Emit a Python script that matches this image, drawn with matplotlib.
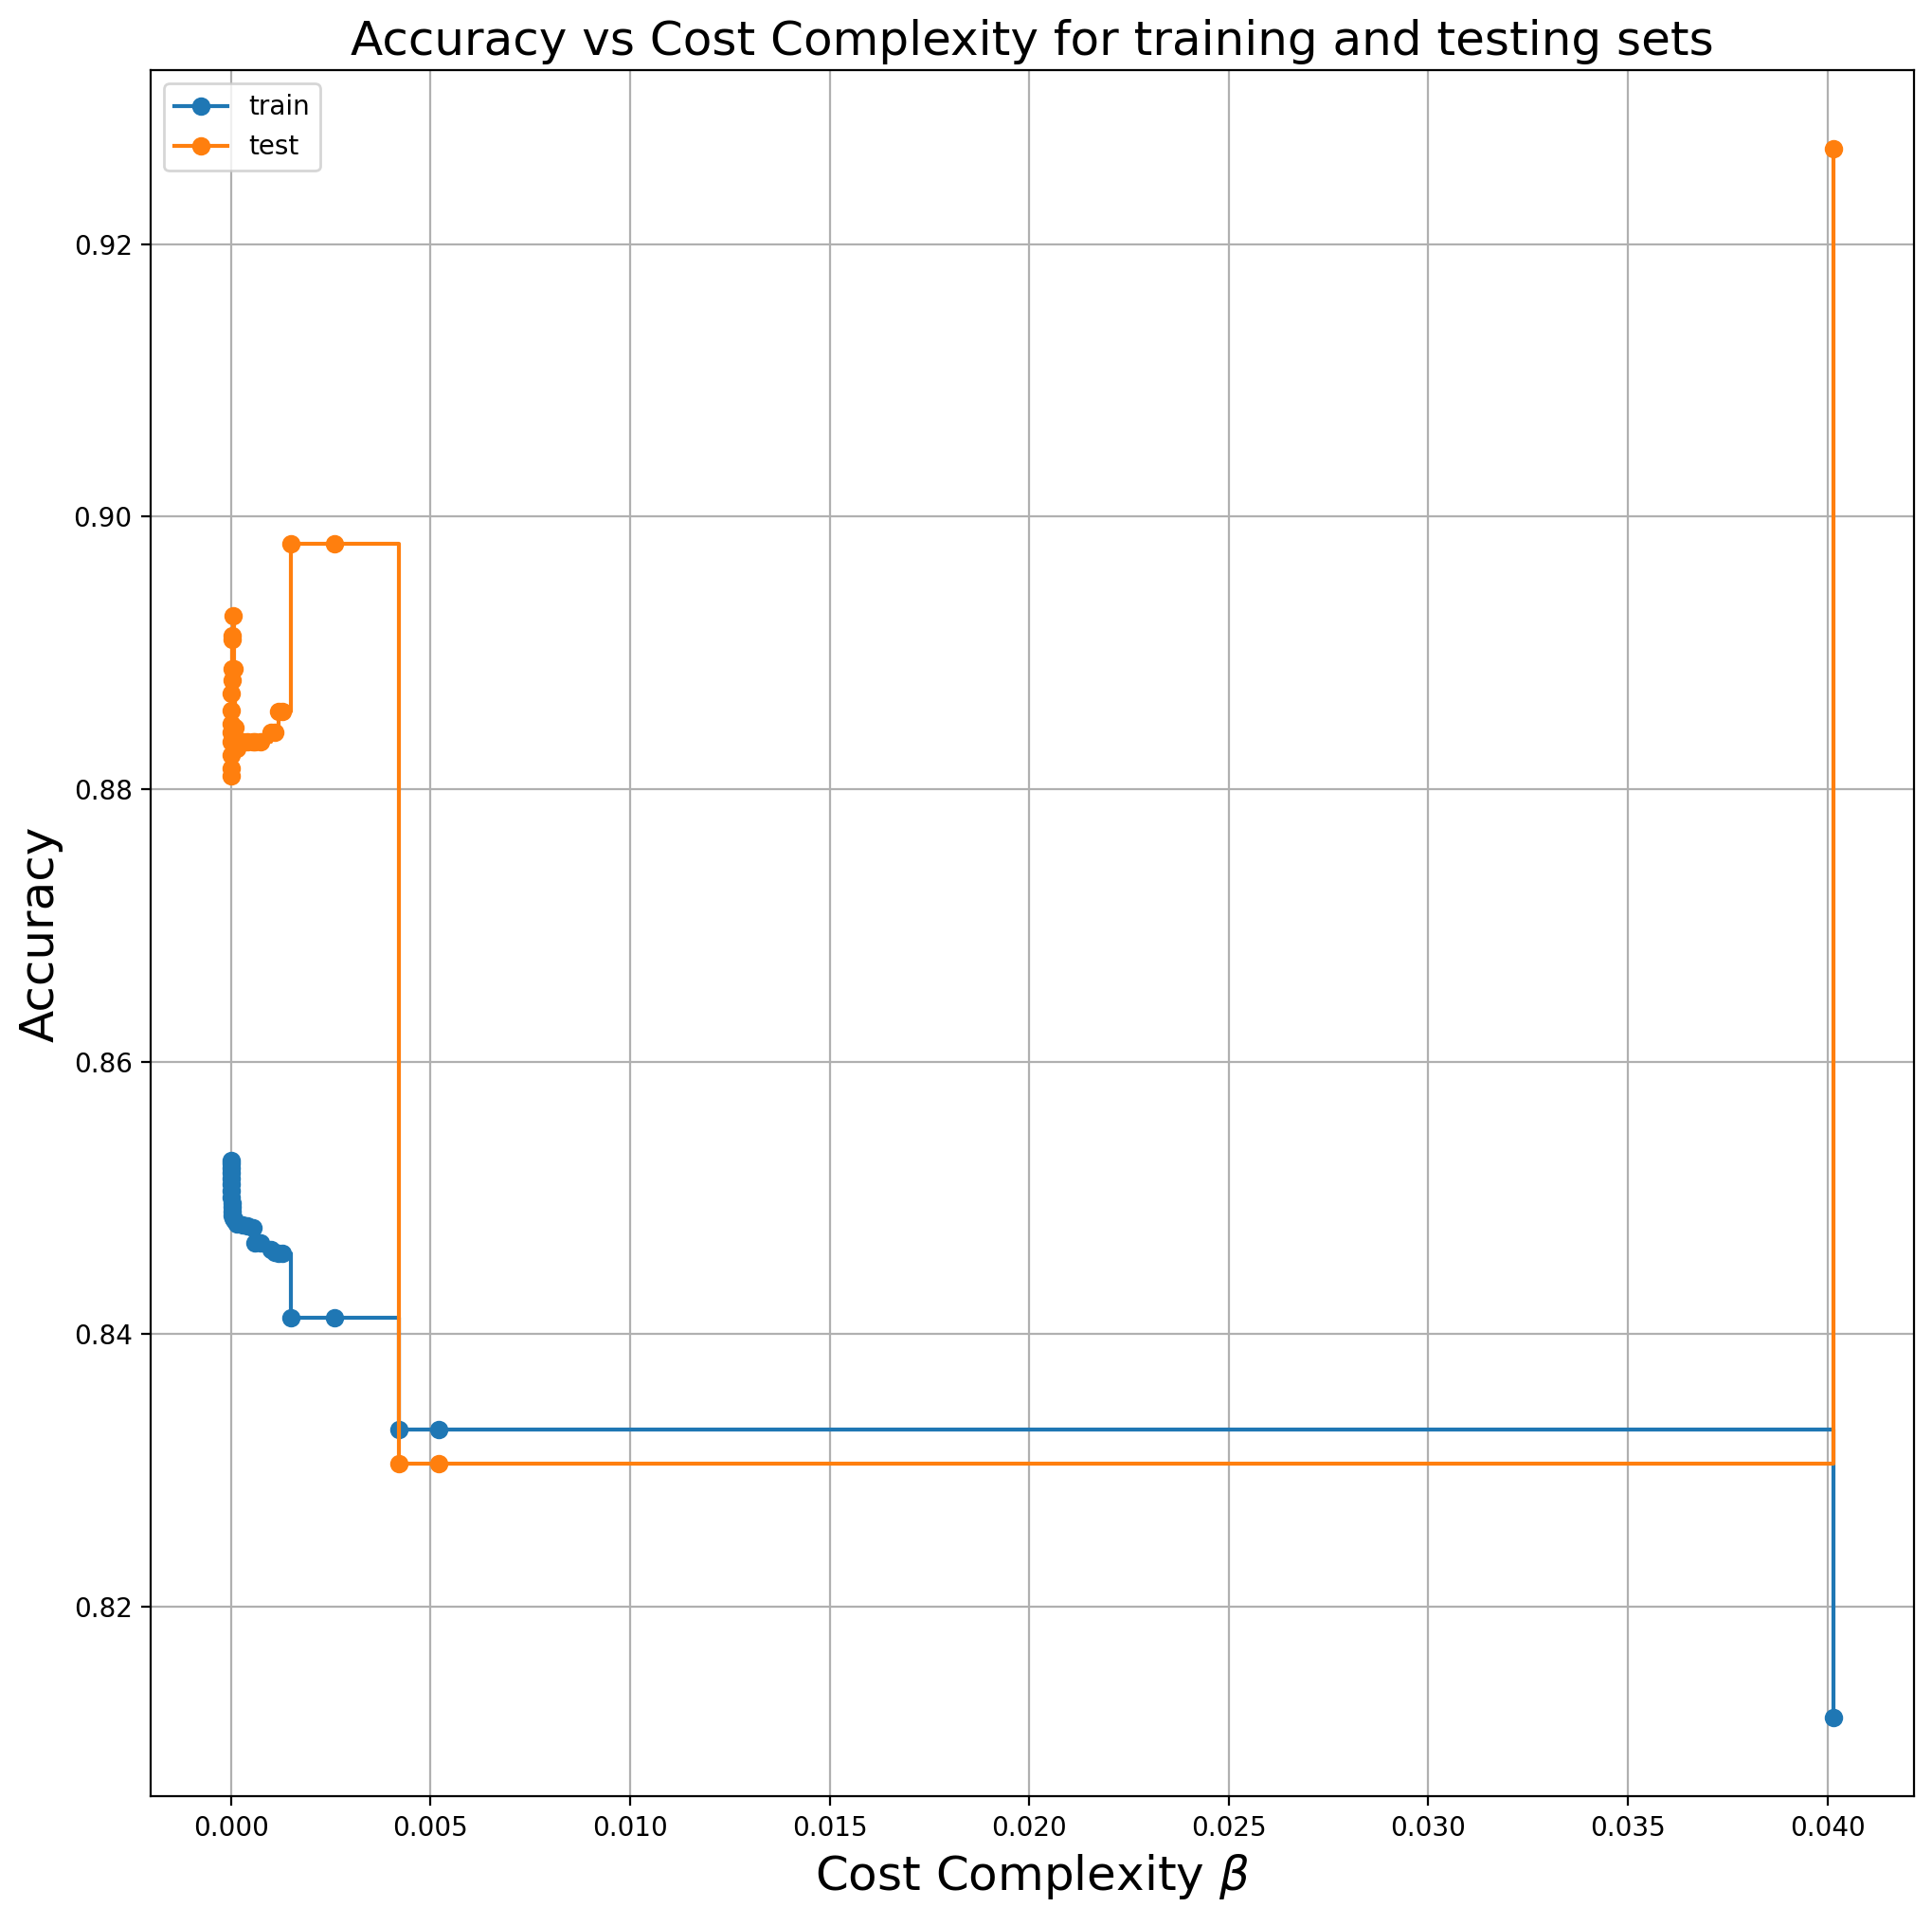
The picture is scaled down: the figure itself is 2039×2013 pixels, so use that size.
import numpy as np
import matplotlib.pyplot as plt

# ccp alphas (ascending) and accuracy
ccp_alphas = [0.0, 0.000002, 0.000004, 0.000006, 0.000008, 0.00001, 0.000012, 0.000015,
              0.00002, 0.000025, 0.00003, 0.00004, 0.00005, 0.00007, 0.0001, 0.00015,
              0.0003, 0.0004, 0.00055, 0.0006, 0.00075, 0.001, 0.0011, 0.0012, 0.00128,
              0.0015, 0.0026, 0.0042, 0.0052, 0.04015]
train_scores = [0.8527, 0.8525, 0.8522, 0.8518, 0.8514, 0.8510, 0.8505, 0.8500,
                0.8496, 0.8493, 0.8490, 0.8487, 0.8485, 0.8484, 0.8483, 0.8481,
                0.8480, 0.8479, 0.8478, 0.8467, 0.8467, 0.8462, 0.8460, 0.8459, 0.8459,
                0.8412, 0.8412, 0.8330, 0.8330, 0.8118]
test_scores = [0.8810, 0.8815, 0.8825, 0.8835, 0.8842, 0.8848, 0.8858, 0.8870,
               0.8880, 0.8888, 0.8910, 0.8913, 0.8927, 0.8888, 0.8845, 0.8830,
               0.8835, 0.8835, 0.8835, 0.8835, 0.8835, 0.8842, 0.8842, 0.8857, 0.8857,
               0.8980, 0.8980, 0.8305, 0.8305, 0.9270]

fig, ax = plt.subplots(figsize=(10.2, 10.065), dpi=200)
ax.plot(ccp_alphas, train_scores, marker="o", label="train", drawstyle="steps-post")
ax.plot(ccp_alphas, test_scores, marker="o", label="test", drawstyle="steps-post")
ax.set_xlabel(r"Cost Complexity $\beta$", fontsize=18)
ax.set_ylabel("Accuracy", fontsize=18)
ax.set_title("Accuracy vs Cost Complexity for training and testing sets", fontsize=18)
ax.grid(True)
ax.legend(loc="upper left")
fig.subplots_adjust(left=0.078, right=0.99, top=0.963, bottom=0.058)
plt.savefig("out.png", dpi=200)
